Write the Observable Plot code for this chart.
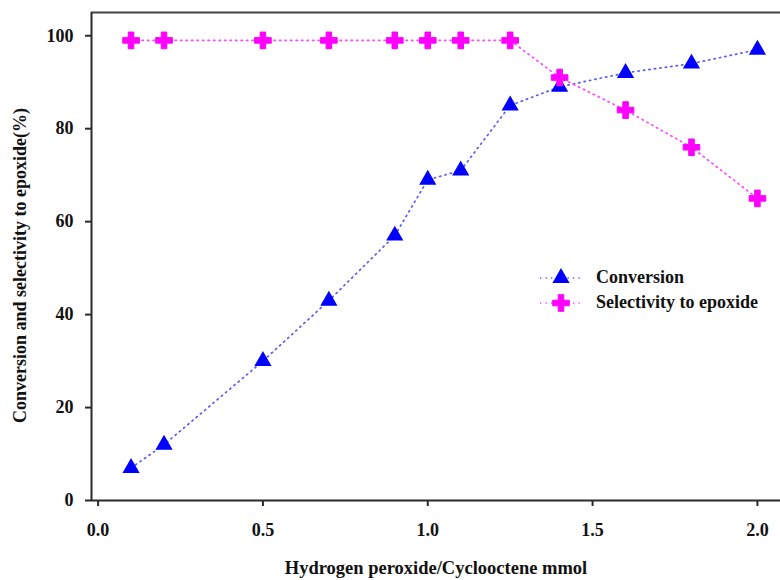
<!DOCTYPE html>
<html>
<head>
<meta charset="utf-8">
<script src="https://cdn.jsdelivr.net/npm/d3@7"></script>
<script src="https://cdn.jsdelivr.net/npm/@observablehq/plot@0.6"></script>
<style>
  html, body { margin: 0; padding: 0; background: #fff; }
  #wrap { position: relative; width: 780px; height: 580px; overflow: hidden; }
  #chart svg text { font-family: "Liberation Serif", "Times New Roman", serif; font-weight: bold; }
  #legend { position: absolute; left: 538px; top: 265px; font-family: "Liberation Serif", "Times New Roman", serif; font-weight: bold; font-size: 18px; color: #111; }
  .row { display: flex; align-items: center; height: 25px; }
  .row svg { margin-right: 12px; }
</style>
</head>
<body>
<div id="wrap">
  <div id="chart"></div>
  <div id="legend"></div>
</div>
<script>
const ratio = [0.1, 0.2, 0.5, 0.7, 0.9, 1.0, 1.1, 1.25, 1.4, 1.6, 1.8, 2.0];
const conversion = [7, 12, 30, 43, 57, 69, 71, 85, 89, 92, 94, 97];
const selectivity = [99, 99, 99, 99, 99, 99, 99, 99, 91, 84, 76, 65];
const xTicks = [0, 0.5, 1.0, 1.5, 2.0];
const yTicks = [0, 20, 40, 60, 80, 100];
const seriesNames = ["Conversion", "Selectivity to epoxide"];
const xTitle = "Hydrogen peroxide/Cyclooctene mmol";
const yTitle = "Conversion and selectivity to epoxide(%)";

const xDomain = [-0.02, 2.07];
const yDomain = [0, 105];

const convData = ratio.map((x, i) => ({x, y: conversion[i]}));
const selData = ratio.map((x, i) => ({x, y: selectivity[i]}));

const blueLine = "#5c5cf0";
const blue = "#0000ff";
const magentaLine = "#ff48ff";
const magenta = "#ff00ff";
const axisColor = "#2a2a2a";
const dash = "1.3,4.2";

const chart = Plot.plot({
  width: 780,
  height: 580,
  marginLeft: 91,
  marginRight: 0,
  marginTop: 12,
  marginBottom: 80,
  style: {fontFamily: "'Liberation Serif', 'Times New Roman', serif", fontWeight: "bold", fontSize: "18px", color: "#111", background: "#fff"},
  x: {domain: xDomain},
  y: {domain: yDomain},
  marks: [
    Plot.ruleY([yDomain[1]], {stroke: "#444", strokeWidth: 2}),
    Plot.ruleX([xDomain[0]], {stroke: axisColor, strokeWidth: 2}),
    Plot.ruleY([0], {stroke: axisColor, strokeWidth: 2}),
    Plot.axisY(yTicks, {tickSize: 6, tickPadding: 12, strokeWidth: 2, stroke: axisColor, fontSize: 18, label: null}),
    Plot.axisX(xTicks, {tickSize: 6, tickPadding: 17, strokeWidth: 2, stroke: axisColor, fontSize: 18, tickFormat: d3.format(".1f"), label: null}),
    Plot.text([yTitle], {frameAnchor: "left", textAnchor: "middle", dx: -71, dy: 9, rotate: -90, fontSize: 18, fill: "#111"}),
    Plot.text([xTitle], {frameAnchor: "bottom", textAnchor: "middle", lineAnchor: "middle", dy: 68, fontSize: 18.5, fill: "#111"}),
    Plot.line(convData, {x: "x", y: "y", stroke: blueLine, strokeWidth: 1.7, strokeDasharray: dash}),
    Plot.line(selData, {x: "x", y: "y", stroke: magentaLine, strokeWidth: 1.7, strokeDasharray: dash}),
    Plot.dot(convData, {x: "x", y: "y", symbol: "triangle", r: 6.4, fill: blue, stroke: "none"}),
    Plot.dot(selData, {x: "x", y: "y", symbol: "cross", r: 7, fill: magenta, stroke: magenta, strokeWidth: 1, strokeLinejoin: "round"})
  ]
});
document.getElementById("chart").appendChild(chart);

// Legend
const legend = d3.select("#legend");
const items = [
  {name: seriesNames[0], line: blueLine, fill: blue, sym: d3.symbolTriangle, size: 6.4 * 6.4 * Math.PI},
  {name: seriesNames[1], line: magentaLine, fill: magenta, sym: d3.symbolCross, size: 7 * 7 * Math.PI}
];
items.forEach(it => {
  const row = legend.append("div").attr("class", "row");
  const s = row.append("svg").attr("width", 46).attr("height", 22);
  s.append("line").attr("x1", 2).attr("x2", 44).attr("y1", 11).attr("y2", 11)
    .attr("stroke", it.line).attr("stroke-width", 1.7).attr("stroke-dasharray", dash);
  s.append("path").attr("d", d3.symbol(it.sym, it.size)()).attr("transform", "translate(23,11)")
    .attr("fill", it.fill).attr("stroke", it.sym === d3.symbolCross ? it.fill : "none").attr("stroke-linejoin", "round");
  row.append("span").text(it.name);
});
</script>
</body>
</html>
